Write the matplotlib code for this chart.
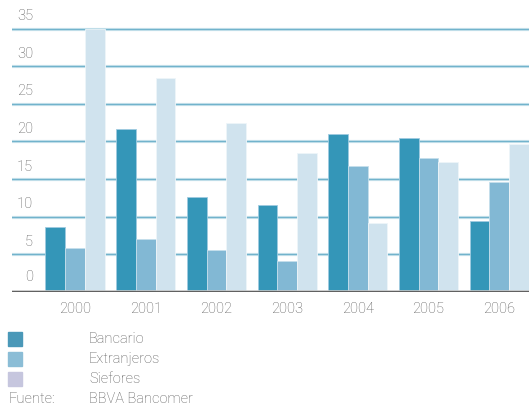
import numpy as np
import matplotlib.pyplot as plt
from matplotlib.patches import Rectangle

# datos por año
years = ['2000', '2001', '2002', '2003', '2004', '2005', '2006']
bancario = [8.7, 21.6, 12.6, 11.5, 21.0, 20.5, 9.4]
extranjeros = [5.8, 7.0, 5.6, 4.1, 16.7, 17.8, 14.6]
siefores = [35.0, 28.4, 22.4, 18.4, 9.2, 17.3, 19.7]
yticks = [0, 5, 10, 15, 20, 25, 30, 35]

c_banc = '#3496b8'
c_ext = '#82b8d4'
c_sief = '#d0e3ee'
txt = '#5a5a5a'

plt.rcParams['font.family'] = ['Roboto', 'DejaVu Sans']
plt.rcParams['font.weight'] = 'light'

fig = plt.figure(figsize=(5.29, 4.09), dpi=100)
ax = fig.add_axes([12/529, 117/409, 517/529, 265/409])

x = np.arange(len(years))
w = 0.279
ax.bar(x - w, bancario, w, color=c_banc, edgecolor='#9fcbe0', lw=0.6, zorder=3)
ax.bar(x, extranjeros, w, color=c_ext, edgecolor='#c5dfec', lw=0.6, zorder=3)
ax.bar(x + w, siefores, w, color=c_sief, edgecolor='#eef5f9', lw=0.6, zorder=3)

ax.set_xlim(-0.891, 6.42)
ax.set_ylim(0, 35.2)

# lineas horizontales
for v in yticks[1:]:
    ax.axhline(v, color='#d3e8f0', lw=2.3, zorder=1)
    ax.axhline(v, color='#72b3cc', lw=1.0, zorder=2)
    ax.annotate(str(v), xy=(0.0406, v), xycoords=('axes fraction', 'data'),
                xytext=(0, 4), textcoords='offset points',
                ha='right', va='bottom', fontsize=10.5, color=txt)
ax.annotate('0', xy=(0.0406, 0), xycoords=('axes fraction', 'data'),
            xytext=(0, 6), textcoords='offset points',
            ha='right', va='bottom', fontsize=10.5, color=txt)
ax.axhline(0, color='#c4c4c4', lw=2.6, zorder=4)
ax.axhline(0, color='#444444', lw=1.1, zorder=5)

for s in ax.spines.values():
    s.set_visible(False)
ax.set_yticks([])
ax.set_xticks(x)
ax.set_xticklabels(years, fontsize=10.5, color=txt)
ax.tick_params(axis='x', length=0, pad=7)

# leyenda
items = [('Bancario', '#4a98b8', 339), ('Extranjeros', '#8bbdd6', 359),
         ('Siefores', '#c6c6de', 379)]
for label, col, yc in items:
    fig.patches.append(Rectangle((8/529, 1 - (yc + 7)/409), 14/529, 14/409,
                                 transform=fig.transFigure, color=col))
    fig.text(89/529, 1 - yc/409, label, fontsize=10.5, color=txt, va='center')
fig.text(9/529, 1 - 399/409, 'Fuente:', fontsize=10.5, color=txt, va='center')
fig.text(89/529, 1 - 399/409, 'BBVA Bancomer', fontsize=10.5, color=txt, va='center')

fig.savefig('out.png', dpi=100)
